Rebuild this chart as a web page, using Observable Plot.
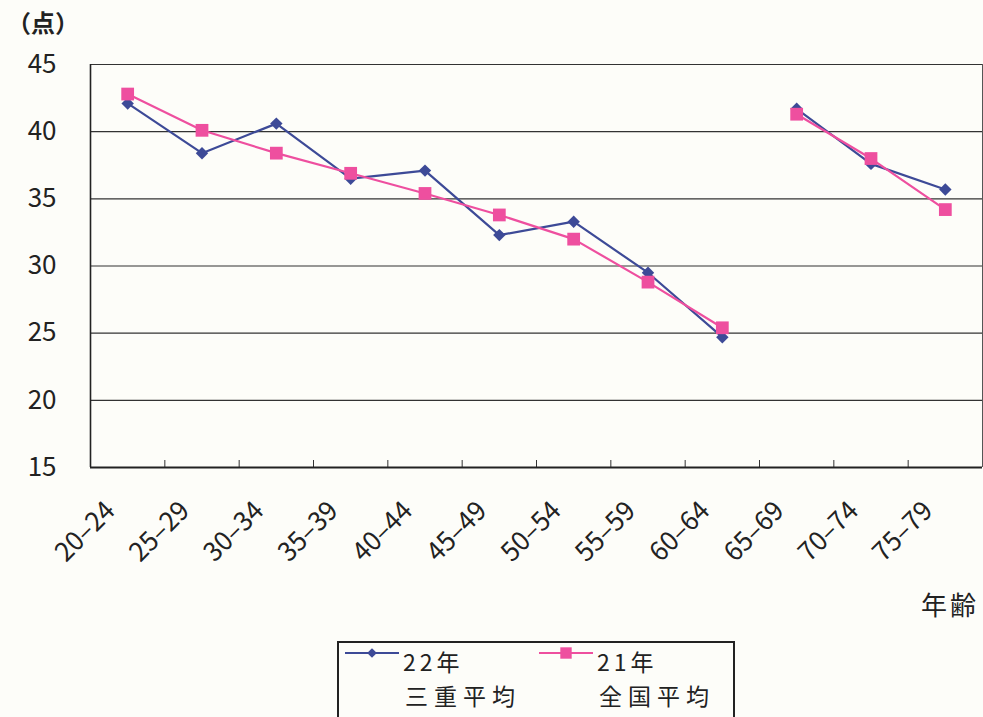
<!DOCTYPE html>
<html><head><meta charset="utf-8">
<script src="https://cdn.jsdelivr.net/npm/d3@7"></script>
<script src="https://cdn.jsdelivr.net/npm/@observablehq/plot@0.6"></script>
<style>
body{margin:0;background:#fdfdf9;}
#wrap{position:relative;width:983px;height:717px;overflow:hidden;font-family:"Noto Sans CJK JP","Noto Sans",sans-serif;color:#222;}
#wrap svg{position:absolute;left:0;top:0;}
.lbl{position:absolute;white-space:nowrap;}
#unit{left:7px;top:4px;font-size:24px;font-weight:bold;}
#xname{left:921px;top:585px;font-size:26px;letter-spacing:3px;}
#legend{position:absolute;left:337px;top:641px;width:394px;height:100px;border:2px solid #222;background:#fdfdf9;}
.item{position:absolute;top:2px;font-size:23px;line-height:33px;}
.item svg{position:absolute;left:0;top:10px;}
.item .t{position:absolute;left:58px;white-space:nowrap;}
</style></head><body><div id="wrap">
<div class="lbl" id="unit">（点）</div>
<div class="lbl" id="xname">年齢</div>
<div id="legend"></div>
</div>
<script>
const ageGroups = ["20–24","25–29","30–34","35–39","40–44","45–49","50–54","55–59","60–64","65–69","70–74","75–79"];
const mie22 = [42.1, 38.4, 40.6, 36.5, 37.1, 32.3, 33.3, 29.5, 24.7, 41.7, 37.6, 35.7];
const national21 = [42.8, 40.1, 38.4, 36.9, 35.4, 33.8, 32.0, 28.8, 25.4, 41.3, 38.0, 34.2];
const seriesYear = ["22年", "21年"];
const seriesArea = ["三重平均", "全国平均"];
const yTicks = [15, 20, 25, 30, 35, 40, 45];
const lastBeforeGap = "60–64";

const colors = ["#3d4a97", "#ee4f9f"];
const symbols = ["diamond2", "square"];
const radii = [5.6, 7.2];

const gapIndex = ageGroups.indexOf(lastBeforeGap);
const rows = [];
[mie22, national21].forEach((vals, s) => {
  vals.forEach((v, i) => rows.push({
    series: s, age: ageGroups[i], pos: i + 0.5, value: v,
    seg: s + "-" + (i <= gapIndex ? 0 : 1)
  }));
});
const centers = ageGroups.map((_, i) => i + 0.5);
const bounds = d3.range(1, ageGroups.length);

const W = 983, H = 717, mL = 90, mR = 1, mT = 64, mB = 250;
const plotH = H - mT - mB;

const chart = Plot.plot({
  width: W, height: H,
  marginLeft: mL, marginRight: mR, marginTop: mT, marginBottom: mB,
  style: {background: "transparent", fontFamily: '"Noto Sans CJK JP","Noto Sans",sans-serif', color: "#222"},
  x: {type: "linear", domain: [0, ageGroups.length]},
  y: {domain: [yTicks[0], yTicks[yTicks.length - 1]]},
  marks: [
    Plot.ruleY(yTicks.slice(1), {stroke: "#333", strokeWidth: 1.1}),
    Plot.ruleX([ageGroups.length], {stroke: "#555", strokeWidth: 1}),
    Plot.ruleX(bounds, {stroke: "#333", strokeWidth: 1, insetTop: plotH - 7}),
    Plot.ruleY([yTicks[0]], {stroke: "#222", strokeWidth: 2}),
    Plot.ruleX([0], {stroke: "#222", strokeWidth: 1.6}),
    Plot.axisY({ticks: yTicks, tickSize: 0, tickPadding: 34, fontSize: 26, fill: "#222", label: null}),
    Plot.axisX({ticks: centers, tickFormat: v => ageGroups[Math.round(v - 0.5)], tickSize: 0, tickPadding: 39, tickRotate: -45, fontSize: 26, fill: "#222", dx: -17, label: null}),
    ...[0, 1].map(s => Plot.line(rows.filter(d => d.series === s), {x: "pos", y: "value", z: "seg", stroke: colors[s], strokeWidth: 2.2})),
    ...[0, 1].map(s => Plot.dot(rows.filter(d => d.series === s), {x: "pos", y: "value", symbol: symbols[s], r: radii[s], fill: colors[s], stroke: "none"}))
  ]
});
document.getElementById("wrap").insertBefore(chart, document.getElementById("unit"));

const legend = document.getElementById("legend");
const offsets = [6, 200];
const spacing = [4, 6];
[0, 1].forEach(s => {
  const item = document.createElement("div");
  item.className = "item";
  item.style.left = offsets[s] + "px";
  const sw = d3.create("svg").attr("width", 56).attr("height", 16);
  sw.append("line").attr("x1", 0).attr("x2", 54).attr("y1", 8).attr("y2", 8).attr("stroke", colors[s]).attr("stroke-width", 2.2);
  sw.append("path").attr("transform", "translate(27,8)").attr("fill", colors[s])
    .attr("d", d3.symbol(s === 0 ? d3.symbolDiamond2 : d3.symbolSquare, s === 0 ? 60 : 130)());
  item.appendChild(sw.node());
  [seriesYear[s], seriesArea[s]].forEach((txt, k) => {
    const t = document.createElement("div");
    t.className = "t";
    t.style.top = (k * 34) + "px";
    t.style.left = (58 + k * 2) + "px";
    t.style.letterSpacing = spacing[k] + "px";
    t.textContent = txt;
    item.appendChild(t);
  });
  legend.appendChild(item);
});
</script>
</body></html>
